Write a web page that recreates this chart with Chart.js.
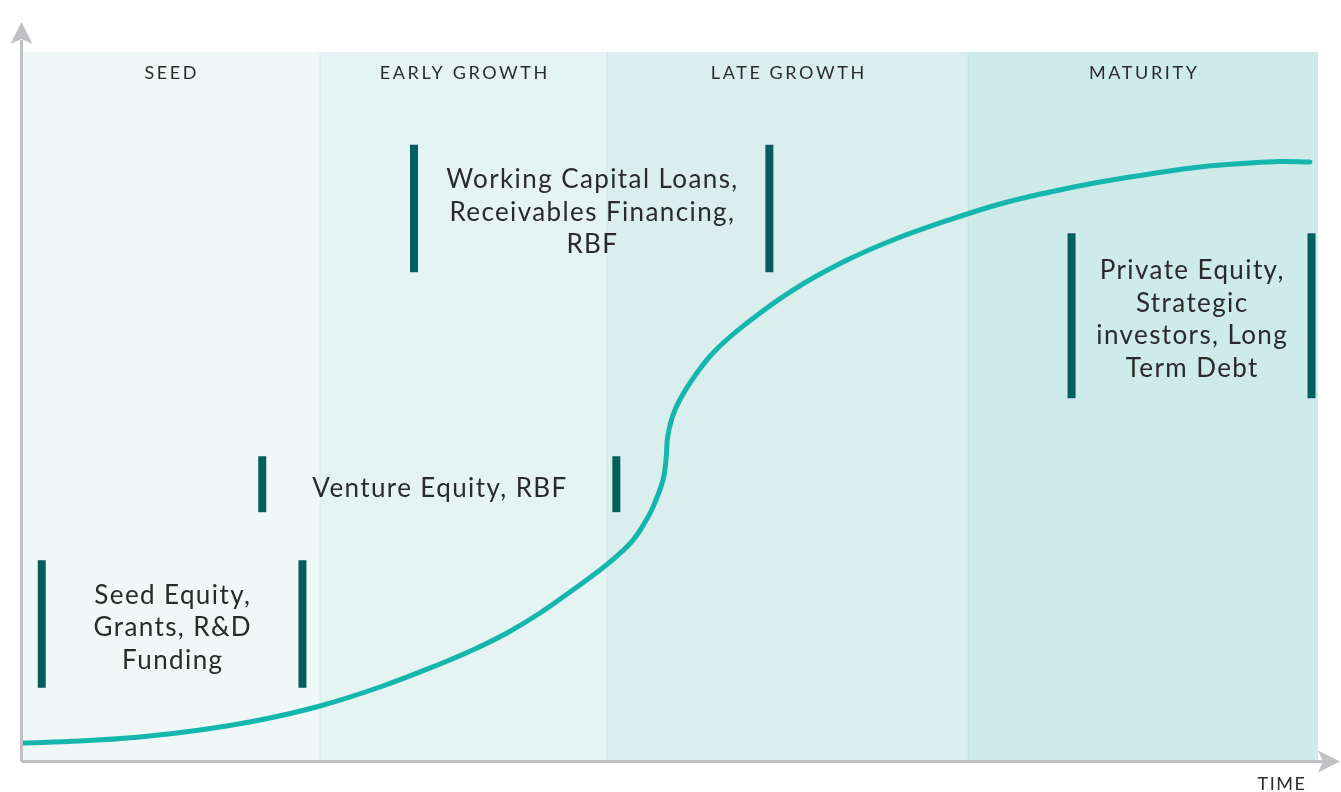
<!DOCTYPE html>
<html>
<head>
<meta charset="utf-8">
<script src="https://cdn.jsdelivr.net/npm/chart.js@4.4.1/dist/chart.umd.min.js"></script>
<style>
body{margin:0;background:#fff;}
#wrap{width:1341px;height:792px;}
</style>
</head>
<body>
<div id="wrap"><canvas id="growthChart" width="1341" height="792"></canvas></div>
<script>
// STAGES (time axis 0..100)

const stages=["SEED","EARLY GROWTH","LATE GROWTH","MATURITY"];
const stageEnds=[23.05,45.18,73.01,100];
const stageColors=["#eff8f7","#e5f4f3","#daefed","#ceebe9"];

// GROWTH CURVE

const growthX=[0,4.55,9.17,13.8,18.43,23.05,27.68,32.31,35.0,37.47,40.02,42.33,44.64,46.03,47.19,48.03,48.73,49.5,49.73,49.88,50.42,51.58,53.35,55.97,59.52,63.38,67.23,71.09,75.48,79.34,83.19,87.05,90.9,94.76,97.07,99.38];
const growthY=[2.4,2.68,3.25,4.24,5.65,7.63,10.31,13.56,15.68,17.94,20.76,23.73,26.84,28.95,31.07,33.33,35.73,39.55,42.37,45.9,49.44,53.25,57.49,61.72,66.38,70.34,73.45,75.99,78.53,80.23,81.64,82.77,83.76,84.32,84.53,84.46];

// FUNDING TYPES

const fundingLabels=[
["Seed Equity,","Grants, R&D","Funding"],
["Venture Equity, RBF"],
["Working Capital Loans,","Receivables Financing,","RBF"],
["Private Equity,","Strategic","investors, Long","Term Debt"]
];
const fundingStart=[1.6,18.6,30.3,81.0];
const fundingEnd=[21.7,45.9,57.7,99.5];
const fundingLow=[10.2,35.0,68.9,51.1];
const fundingHigh=[28.2,42.9,86.9,74.4];

const barColor="#035e60";
const axisColor="#c0c1c5";

const datasets=[{
label:"Growth",
data:growthX.map((x,i)=>({x:x,y:growthY[i]})),
borderColor:"#14b6ad",
borderWidth:5,
pointRadius:0,
tension:0.4,
borderCapStyle:"round",
order:0
}];

fundingLabels.forEach((lbl,i)=>{
[fundingStart[i],fundingEnd[i]].forEach(x=>{
datasets.push({
label:lbl.join(" "),
data:[{x:x,y:fundingLow[i]},{x:x,y:fundingHigh[i]}],
borderColor:barColor,
borderWidth:8,
borderCapStyle:"butt",
pointRadius:0,
order:1
});
});
});

// background bands, stage titles, funding text, axes

const diagramPlugin={
id:"diagram",
beforeDatasetsDraw(chart){
const {ctx,chartArea,scales:{x,y}}=chart;
ctx.save();
let prev=0;
stageEnds.forEach((end,i)=>{
const x0=x.getPixelForValue(prev);
const x1=x.getPixelForValue(end);
ctx.fillStyle=stageColors[i];
ctx.fillRect(x0,chartArea.top,x1-x0,chartArea.bottom-chartArea.top);
if(i>0){
ctx.fillStyle="rgba(20,160,150,0.10)";
ctx.fillRect(x0-0.5,chartArea.top,1,chartArea.bottom-chartArea.top);
}
ctx.fillStyle="#2b2b2b";
ctx.font="18px Lato";
ctx.letterSpacing="2.6px";
ctx.textAlign="center";
ctx.textBaseline="middle";
ctx.fillText(stages[i],(x0+x1)/2+1.3,chartArea.top+21);
prev=end;
});

// funding text
ctx.fillStyle="#2a2a2a";
ctx.font="26px Lato";
ctx.letterSpacing="1.4px";
fundingLabels.forEach((lines,i)=>{
const cx=(x.getPixelForValue(fundingStart[i])+x.getPixelForValue(fundingEnd[i]))/2+0.7;
const cy=(y.getPixelForValue(fundingLow[i])+y.getPixelForValue(fundingHigh[i]))/2+4;
const lh=32.5;
lines.forEach((t,j)=>{
ctx.fillText(t,cx,cy+(j-(lines.length-1)/2)*lh);
});
});
ctx.restore();
},
afterDraw(chart){
const {ctx,chartArea}=chart;
const ax=chartArea.left+0.5;
const ay=chartArea.bottom+1.5;
ctx.save();
ctx.strokeStyle=axisColor;
ctx.fillStyle=axisColor;
ctx.lineWidth=3;
ctx.beginPath();
ctx.moveTo(ax,ay);
ctx.lineTo(ax,chartArea.top-12);
ctx.moveTo(ax,ay);
ctx.lineTo(chartArea.right+8,ay);
ctx.stroke();
// arrow heads
ctx.beginPath();
ctx.moveTo(ax,chartArea.top-30);
ctx.lineTo(ax-11,chartArea.top-8);
ctx.lineTo(ax,chartArea.top-13);
ctx.lineTo(ax+11,chartArea.top-8);
ctx.closePath();
ctx.fill();
ctx.beginPath();
ctx.moveTo(chartArea.right+22,ay);
ctx.lineTo(chartArea.right,ay-11);
ctx.lineTo(chartArea.right+5,ay);
ctx.lineTo(chartArea.right,ay+11);
ctx.closePath();
ctx.fill();
ctx.fillStyle="#2b2b2b";
ctx.font="18px Lato";
ctx.letterSpacing="1.5px";
ctx.textAlign="center";
ctx.textBaseline="middle";
ctx.fillText("TIME",chartArea.right-36,ay+23);
ctx.restore();
}
};

const growthChart=document.getElementById("growthChart");

new Chart(growthChart,{
type:"line",
data:{datasets:datasets},
options:{
responsive:false,
animation:false,
layout:{
padding:{left:21,top:52,right:23,bottom:32}
},
scales:{
x:{type:"linear",min:0,max:100,display:false},
y:{type:"linear",min:0,max:100,display:false}
},
plugins:{
legend:{display:false},
tooltip:{enabled:false}
}
},
plugins:[diagramPlugin]
});
</script>
</body>
</html>
